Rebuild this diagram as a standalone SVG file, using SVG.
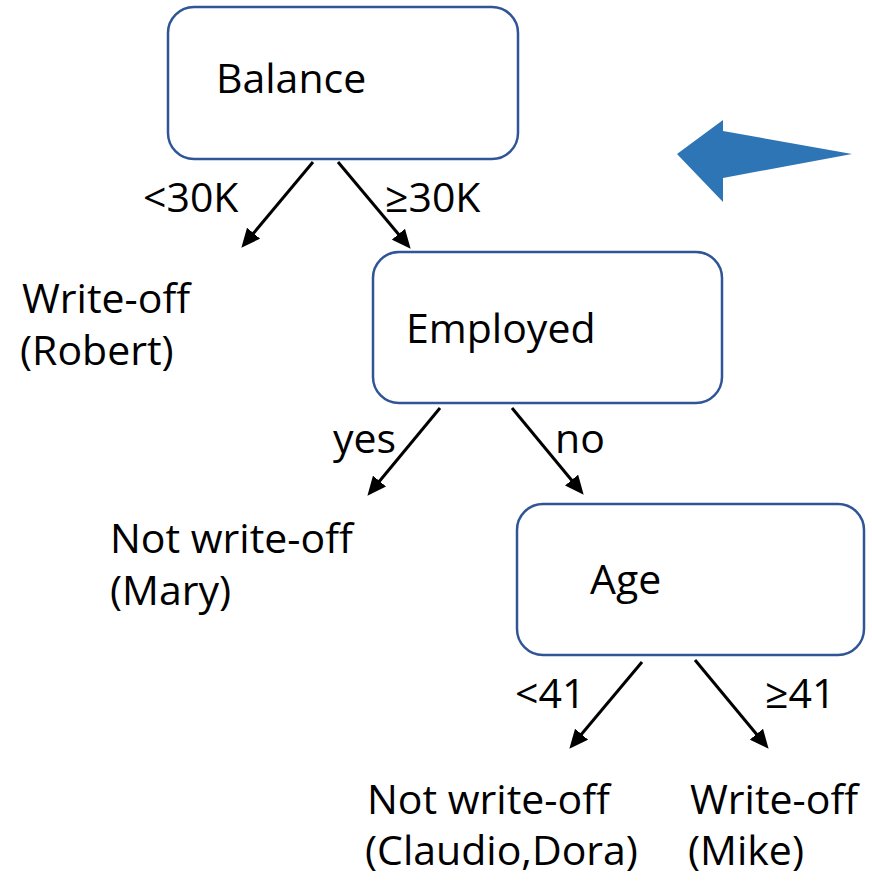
<svg xmlns="http://www.w3.org/2000/svg" width="872" height="882" viewBox="0 0 872 882">
  <style>
    .box { fill: #ffffff; stroke: #2F5597; stroke-width: 2.5; }
    .txt { font-family: "Open Sans", "Liberation Sans", sans-serif; font-size: 41px; fill: #000000; }
    .edge { stroke: #000000; stroke-width: 3; fill: none; marker-end: url(#head); }
  </style>
  <defs>
    <marker id="head" markerUnits="userSpaceOnUse" markerWidth="19" markerHeight="17" refX="6" refY="8.5" orient="auto">
      <path d="M0,0 L19,8.5 L0,17 Z" fill="#000000"/>
    </marker>
  </defs>
  <rect width="872" height="882" fill="#ffffff"/>

  <!-- decision nodes -->
  <g id="balance">
    <rect class="box" x="168" y="7" width="350" height="152" rx="26"/>
    <text class="txt" x="216" y="93">Balance</text>
  </g>
  <g id="employed">
    <rect class="box" x="373" y="252" width="349" height="151" rx="26"/>
    <text class="txt" x="406" y="343">Employed</text>
  </g>
  <g id="age">
    <rect class="box" x="517" y="504" width="347" height="151" rx="26"/>
    <text class="txt" x="590" y="594">Age</text>
  </g>

  <!-- leaves -->
  <g id="leaf-robert">
    <text class="txt" x="22" y="313">Write-off</text>
    <text class="txt" x="20" y="365">(Robert)</text>
  </g>
  <g id="leaf-mary">
    <text class="txt" x="110" y="553">Not write-off</text>
    <text class="txt" x="110" y="605">(Mary)</text>
  </g>
  <g id="leaf-claudio-dora">
    <text class="txt" x="367" y="814">Not write-off</text>
    <text class="txt" x="365" y="865">(Claudio,Dora)</text>
  </g>
  <g id="leaf-mike">
    <text class="txt" x="690" y="814">Write-off</text>
    <text class="txt" x="688" y="865">(Mike)</text>
  </g>

  <!-- branches -->
  <g id="connectors">
    <line class="edge" x1="313" y1="162" x2="249.7" y2="237.8"/>
    <line class="edge" x1="338" y1="162" x2="402.3" y2="238.8"/>
    <line class="edge" x1="440" y1="408" x2="375.7" y2="485.7"/>
    <line class="edge" x1="512" y1="408" x2="575.4" y2="484.7"/>
    <line class="edge" x1="642" y1="662" x2="577.7" y2="738.8"/>
    <line class="edge" x1="695" y1="660" x2="760.3" y2="738.8"/>
    <text class="txt" x="143" y="212">&lt;30K</text>
    <text class="txt" x="385" y="212">≥30K</text>
    <text class="txt" x="333" y="453">yes</text>
    <text class="txt" x="555" y="453">no</text>
    <text class="txt" x="515" y="708">&lt;41</text>
    <text class="txt" x="765" y="708">≥41</text>
  </g>

  <!-- pointer -->
  <polygon id="pointer" points="677,154 723,120 723,131 852,154 723,178 723,202" fill="#2E75B6"/>
</svg>
